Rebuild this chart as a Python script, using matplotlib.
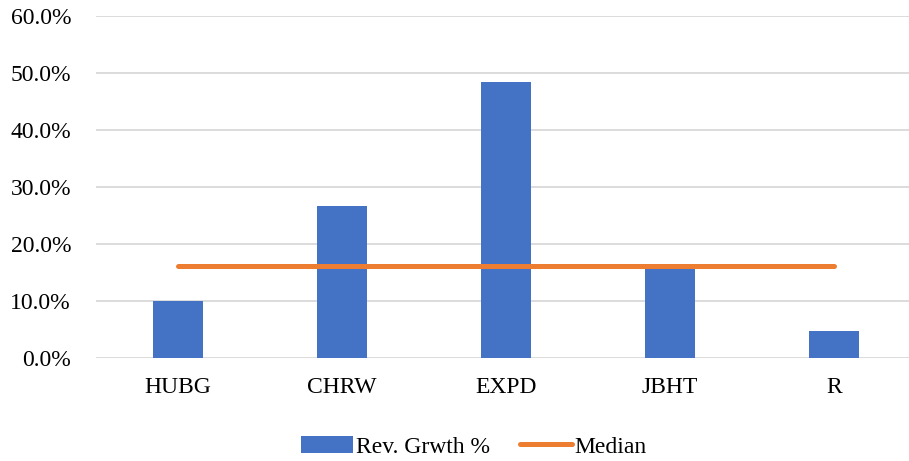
import matplotlib
matplotlib.use("Agg")
import matplotlib.pyplot as plt
from matplotlib.ticker import FuncFormatter

categories = ["HUBG", "CHRW", "EXPD", "JBHT", "R"]
rev_growth = [10.0, 26.6, 48.5, 16.2, 4.8]
median = [16.2, 16.2, 16.2, 16.2, 16.2]
yticks = [0, 10, 20, 30, 40, 50, 60]

plt.rcParams['font.family'] = ['Liberation Serif', 'DejaVu Serif']

fig = plt.figure(figsize=(9.09, 4.61), dpi=100)
ax = fig.add_axes([96/909, 1 - 358/461, (916-96)/909, (358-16)/461])

x = list(range(len(categories)))
bars = ax.bar(x, rev_growth, width=0.31, color="#4472C4", label="Rev. Grwth %", zorder=2)
line, = ax.plot(x, median, color="#ED7D31", linewidth=3.6, solid_capstyle="round", label="Median", zorder=3)

ax.set_xlim(-0.5, 4.5)
ax.set_ylim(0, 60)
ax.set_yticks(yticks)
ax.yaxis.set_major_formatter(FuncFormatter(lambda v, p: f"{v:.1f}%"))
ax.set_xticks(x)
ax.set_xticklabels(categories)
ax.grid(axis="y", color="#D9D9D9", linewidth=1.3, zorder=0)
ax.set_axisbelow(True)
for s in ax.spines.values():
    s.set_visible(False)
ax.tick_params(axis="both", length=0, labelsize=17, colors="#000000")
ax.tick_params(axis="y", pad=18)
ax.tick_params(axis="x", pad=14)

leg = fig.legend([bars, line], ["Rev. Grwth %", "Median"], loc="center",
                 bbox_to_anchor=(474/909, 1 - 447/461), ncol=2, frameon=False,
                 fontsize=17, handlelength=2.2, handletextpad=0.1, columnspacing=1.3)

fig.savefig("out.png", dpi=100)
